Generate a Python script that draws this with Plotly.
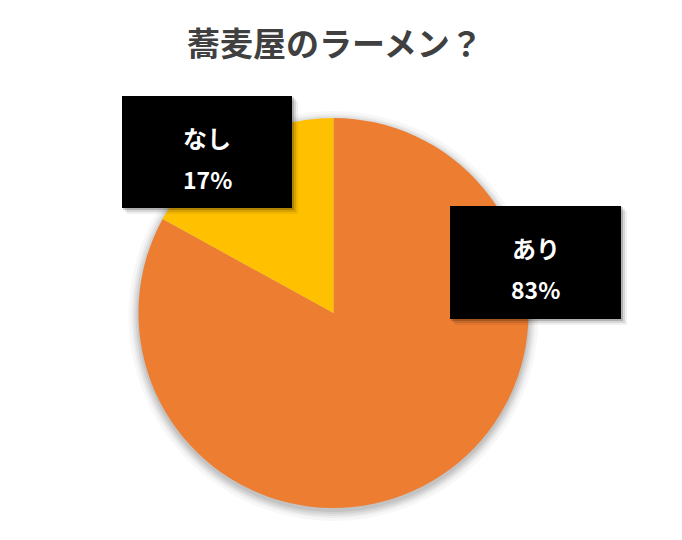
import plotly.graph_objects as go

title_text = "蕎麦屋のラーメン？"
categories = ["あり", "なし"]
values = [83, 17]
colors = ["#ED7D31", "#FFC000"]

W, H = 682, 540
cx, cy, r = 333.5, 313, 195

fig = go.Figure()
fig.add_trace(go.Pie(
    labels=categories, values=values, sort=False, direction="clockwise", rotation=0,
    marker=dict(colors=colors, line=dict(width=0)),
    textinfo="none", hoverinfo="label+percent", showlegend=False,
    domain=dict(x=[(cx - r) / W, (cx + r) / W], y=[1 - (cy + r) / H, 1 - (cy - r) / H]),
))

def px(x):
    return x / W

def py(y):
    return 1 - y / H

shapes = []
# soft shadow behind the pie
for grow, op in [(9, 0.03), (6, 0.04), (4, 0.05), (2, 0.06), (0, 0.07)]:
    shapes.append(dict(type="circle", xref="paper", yref="paper", layer="below",
                       x0=px(cx - r - grow - 1), x1=px(cx + r + grow + 1),
                       y0=py(cy + r + grow + 4), y1=py(cy - r - grow + 2),
                       fillcolor="#000000", opacity=op, line=dict(width=0)))

boxes = {"なし": (122, 96, 292, 208), "あり": (450, 206, 621, 319)}
total = sum(values)
annotations = []
for cat, val in zip(categories, values):
    x0, y0, x1, y1 = boxes[cat]
    # box shadow
    for d, op in [(6, 0.06), (4, 0.10), (2, 0.18)]:
        shapes.append(dict(type="rect", xref="paper", yref="paper", layer="above",
                           x0=px(x0 + d - 1), x1=px(x1 + d), y0=py(y1 + d), y1=py(y0 + d - 1),
                           fillcolor="#000000", opacity=op, line=dict(width=0)))
    shapes.append(dict(type="rect", xref="paper", yref="paper", layer="above",
                       x0=px(x0), x1=px(x1), y0=py(y1), y1=py(y0),
                       fillcolor="#000000", line=dict(width=0)))
    xm = (x0 + x1) / 2
    annotations.append(dict(text=f"<b>{cat}</b>", xref="paper", yref="paper",
                            x=px(xm), y=py(y0 + 41), xanchor="center", yanchor="middle",
                            showarrow=False, font=dict(size=24, color="#FFFFFF",
                                                       family="Noto Sans CJK JP")))
    annotations.append(dict(text=f"<b>{round(val / total * 100)}%</b>", xref="paper", yref="paper",
                            x=px(xm), y=py(y0 + 83), xanchor="center", yanchor="middle",
                            showarrow=False, font=dict(size=23, color="#FFFFFF",
                                                       family="Noto Sans CJK JP")))

annotations.append(dict(text=f"<b>{title_text}</b>", xref="paper", yref="paper",
                        x=px(335), y=py(42), xanchor="center", yanchor="middle",
                        showarrow=False, font=dict(size=33, color="#404040",
                                                   family="Noto Sans CJK JP")))

fig.update_layout(
    width=W, height=H, margin=dict(l=0, r=0, t=0, b=0),
    paper_bgcolor="#FFFFFF", plot_bgcolor="#FFFFFF",
    shapes=shapes, annotations=annotations,
)
fig.write_html("out.html", config={"displayModeBar": False},
               post_script="document.body.style.margin='0';document.body.style.overflow='hidden';")
